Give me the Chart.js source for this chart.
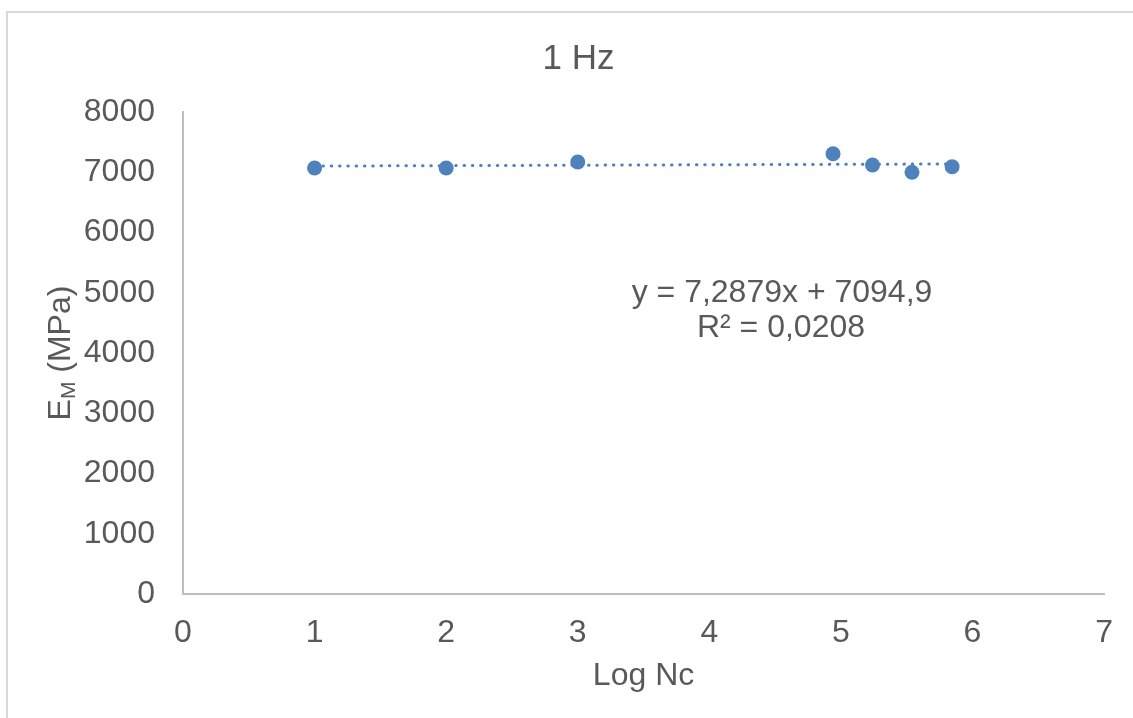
<!DOCTYPE html>
<html>
<head>
<meta charset="utf-8">
<script src="https://cdn.jsdelivr.net/npm/chart.js@4/dist/chart.umd.min.js"></script>
<style>
  html, body { margin: 0; padding: 0; background: #ffffff; }
  #wrap { width: 1133px; height: 718px; position: relative; }
</style>
</head>
<body>
<div id="wrap"><canvas id="c" width="1133" height="718"></canvas></div>
<script>
// ---- data ----
const titleText = '1 Hz';
const xAxisTitle = 'Log Nc';
const logNc = [1, 2, 3, 4.94, 5.24, 5.54, 5.845];
const modulusMPa = [7070, 7070, 7170, 7308, 7120, 7000, 7092];
const trendX = [1, 5.845];
const trendY = [7102.2, 7137.5];
const equationLines = ['y = 7,2879x + 7094,9', 'R\u00b2 = 0,0208'];
const xTicks = [0, 1, 2, 3, 4, 5, 6, 7];
const yTicks = [0, 1000, 2000, 3000, 4000, 5000, 6000, 7000, 8000];

const FONT = "'Liberation Sans', Arial, sans-serif";
const TEXT = '#595959';
const BLUE = '#4F81BD';

const pointData = logNc.map((x, i) => ({ x: x, y: modulusMPa[i] }));
const trendData = trendX.map((x, i) => ({ x: x, y: trendY[i] }));

const decorPlugin = {
  id: 'decor',
  beforeDraw(chart) {
    const ctx = chart.ctx;
    ctx.save();
    ctx.strokeStyle = '#d9d9d9';
    ctx.lineWidth = 2;
    ctx.beginPath();
    ctx.moveTo(7, 718);
    ctx.lineTo(7, 12);
    ctx.lineTo(1133, 12);
    ctx.stroke();
    ctx.restore();
  },
  afterDraw(chart) {
    const ctx = chart.ctx;
    const ca = chart.chartArea;
    ctx.save();
    // y axis title with subscript: E_M (MPa)
    ctx.fillStyle = TEXT;
    const big = '32px ' + FONT;
    const small = '21px ' + FONT;
    ctx.font = big; const wE = ctx.measureText('E').width;
    ctx.font = small; const wM = ctx.measureText('M').width;
    ctx.font = big; const wRest = ctx.measureText(' (MPa)').width;
    const total = wE + wM + wRest;
    const cy = (ca.top + ca.bottom) / 2;
    ctx.translate(70, cy);
    ctx.rotate(-Math.PI / 2);
    ctx.textAlign = 'left';
    ctx.textBaseline = 'alphabetic';
    let x0 = -total / 2;
    ctx.font = big; ctx.fillText('E', x0, 0);
    ctx.font = small; ctx.fillText('M', x0 + wE, 5);
    ctx.font = big; ctx.fillText(' (MPa)', x0 + wE + wM, 0);
    ctx.restore();

    // trendline equation
    ctx.save();
    ctx.fillStyle = TEXT;
    ctx.font = '32px ' + FONT;
    ctx.textAlign = 'center';
    ctx.textBaseline = 'middle';
    ctx.fillText(equationLines[0], 782, 293);
    ctx.fillText(equationLines[1], 781, 328);
    ctx.restore();
  }
};

new Chart(document.getElementById('c'), {
  type: 'scatter',
  data: {
    datasets: [
      {
        label: 'Trend',
        data: trendData,
        showLine: true,
        borderColor: BLUE,
        borderWidth: 3,
        borderDash: [0.5, 7.8],
        borderCapStyle: 'round',
        pointRadius: 0,
        fill: false,
        order: 2
      },
      {
        label: 'E_M',
        data: pointData,
        backgroundColor: BLUE,
        borderColor: BLUE,
        pointRadius: 7.5,
        pointBorderWidth: 0,
        showLine: false,
        order: 1
      }
    ]
  },
  options: {
    responsive: false,
    animation: false,
    devicePixelRatio: 1,
    layout: { padding: { left: 48, right: 24, top: 0, bottom: 0 } },
    plugins: {
      legend: { display: false },
      tooltip: { enabled: false },
      title: {
        display: true,
        text: titleText,
        color: TEXT,
        font: { family: FONT, size: 35, weight: 'normal', lineHeight: 1.2 },
        padding: { top: 38, bottom: 32 }
      }
    },
    scales: {
      x: {
        type: 'linear',
        min: 0,
        max: 7,
        afterBuildTicks: (s) => { s.ticks = xTicks.map(v => ({ value: v })); },
        afterFit: (s) => { s.height = 124; },
        grid: { display: false, drawTicks: false },
        border: { display: true, color: '#bfbfbf', width: 2 },
        ticks: {
          color: TEXT,
          font: { family: FONT, size: 32 },
          padding: 20,
          maxRotation: 0
        },
        title: {
          display: true,
          text: xAxisTitle,
          color: TEXT,
          font: { family: FONT, size: 32, lineHeight: 1.2 },
          padding: { top: 0, bottom: 23 }
        }
      },
      y: {
        type: 'linear',
        min: 0,
        max: 8000,
        afterBuildTicks: (s) => { s.ticks = yTicks.map(v => ({ value: v })); },
        afterFit: (s) => { s.width = 135; },
        grid: { display: false, drawTicks: false },
        border: { display: true, color: '#bfbfbf', width: 2 },
        ticks: {
          color: TEXT,
          font: { family: FONT, size: 32 },
          padding: 28,
          callback: (v) => String(v)
        }
      }
    }
  },
  plugins: [decorPlugin]
});
</script>
</body>
</html>
